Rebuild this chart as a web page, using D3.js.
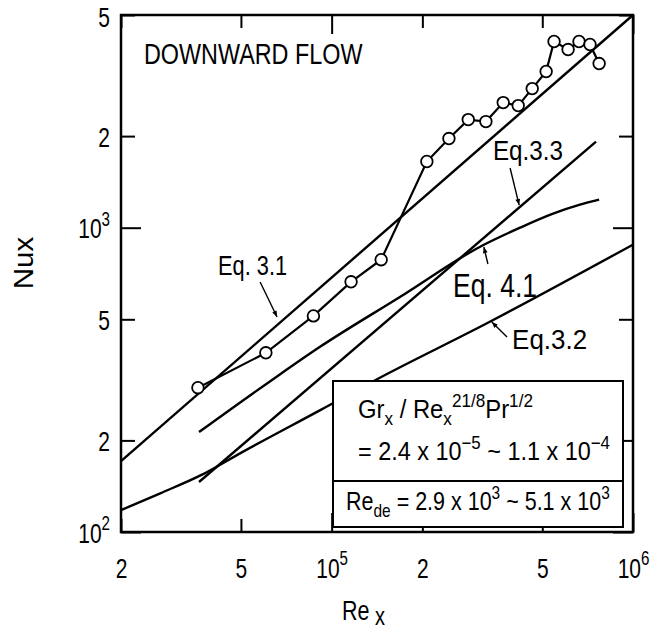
<!DOCTYPE html>
<html>
<head>
<meta charset="utf-8">
<script src="https://cdn.jsdelivr.net/npm/d3@7"></script>
<style>
  body { margin: 0; background: #fff; }
  svg { display: block; font-family: "Liberation Sans", Arial, sans-serif; }
</style>
</head>
<body>
<svg id="chart"></svg>
<script>
// tick values and their labels ([base, superscript])
const reTicks = [2e4, 5e4, 1e5, 2e5, 5e5, 1e6];
const reTickLabels = [['2', ''], ['5', ''], ['10', '5'], ['2', ''], ['5', ''], ['10', '6']];
const nuTicks = [1e2, 2e2, 5e2, 1e3, 2e3, 5e3];
const nuTickLabels = [['10', '2'], ['2', ''], ['5', ''], ['10', '3'], ['2', ''], ['5', '']];

// measured points (circles)
const expRe = [3.6e4, 6.05e4, 8.7e4, 1.16e5, 1.46e5, 2.07e5, 2.45e5, 2.84e5, 3.25e5,
  3.71e5, 4.16e5, 4.63e5, 5.15e5, 5.47e5, 6.09e5, 6.62e5, 7.2e5, 7.72e5];
const expNu = [298, 388, 513, 664, 785, 1650, 1963, 2266, 2232,
  2577, 2519, 2865, 3261, 4091, 3850, 4091, 4000, 3463];

// correlations
const eq31Re = [2e4, 1e6];
const eq31Nu = [171, 5000];
const eq32Re = [2e4, 2.7e4, 3.7e4, 5e4, 9.2e4, 1.4e5, 3.3e5, 1e6];
const eq32Nu = [118, 134, 154, 182, 252, 316, 487, 880];
const eq33Re = [3.63e4, 7.54e5];
const eq33Nu = [146, 1918];
const eq41Re = [3.63e4, 6.34e4, 9.15e4, 1.69e5, 3.11e5, 4.22e5, 5.43e5, 6.67e5, 7.72e5];
const eq41Nu = [213, 316, 406, 593, 866, 1000, 1112, 1190, 1236];

// curve labels: text, anchor (Re, Nu), width px, font size, arrow from/to (Re, Nu)
const eqLabels = [
  { text: 'Eq. 3.1', re: 4.2e4, nu: 699, w: 69, size: 27, from: [5.79e4, 663], to: [6.59e4, 509] },
  { text: 'Eq.3.3', re: 3.43e5, nu: 1669, w: 70, size: 27, from: [3.91e5, 1571], to: [4.19e5, 1187] },
  { text: 'Eq. 4.1', re: 2.53e5, nu: 592, w: 84, size: 34, from: [3.30e5, 760], to: [3.20e5, 864] },
  { text: 'Eq.3.2', re: 3.97e5, nu: 399, w: 75, size: 27, from: [3.82e5, 437], to: [3.40e5, 490] }
];

const svg = d3.select('#chart').attr('width', 655).attr('height', 633);
svg.append('rect').attr('width', 655).attr('height', 633).attr('fill', '#fff');

const margin = { top: 15, right: 22, bottom: 101, left: 121 };
const width = 655 - margin.left - margin.right;
const height = 633 - margin.top - margin.bottom;

const x = d3.scaleLog().domain([2e4, 1e6]).range([0, width]);
const y = d3.scaleLog().domain([1e2, 5e3]).range([height, 0]);

const g = svg.append('g').attr('transform', `translate(${margin.left},${margin.top})`);

const isMajor = d => Math.abs(Math.log10(d) - Math.round(Math.log10(d))) < 1e-6;
const findIdx = (arr, d) => arr.findIndex(t => Math.abs(t - d) / d < 1e-9);

// squeeze a text horizontally so it spans `target` px, keeping x0 fixed
function fitWidth(sel, x0, target) {
  const w = sel.node().getBBox().width;
  const k = target / w;
  sel.attr('transform', `translate(${x0 * (1 - k)},0) scale(${k},1)`);
}

function rich(textSel, parts, size, subShift) {
  let shift = 0;
  parts.forEach(([t, kind]) => {
    const target = kind === 'sup' ? -0.45 * size : kind === 'sub' ? (subShift || 0.3 * size) : 0;
    const dy = target - shift;
    textSel.append('tspan')
      .attr('dy', dy !== 0 ? dy : null)
      .attr('font-size', kind ? 0.72 * size : size)
      .text(t);
    shift = target;
  });
}

// axes, ticks pointing inward
const tickFont = 28;
const xBottom = g.append('g').attr('transform', `translate(0,${height})`)
  .call(d3.axisBottom(x).tickValues(reTicks).tickSize(-13).tickFormat(() => ''));
const xTop = g.append('g')
  .call(d3.axisTop(x).tickValues(reTicks).tickSize(-13).tickFormat(() => ''));
const yLeft = g.append('g')
  .call(d3.axisLeft(y).tickValues(nuTicks).tickSize(-13).tickFormat(() => ''));
const yRight = g.append('g').attr('transform', `translate(${width},0)`)
  .call(d3.axisRight(y).tickValues(nuTicks).tickSize(-13).tickFormat(() => ''));

[xBottom, xTop, yLeft, yRight].forEach(a => {
  a.select('.domain').remove();
  a.selectAll('.tick line').attr('stroke', '#000').attr('stroke-width', 2);
});
xBottom.selectAll('.tick line').attr('y2', d => isMajor(d) ? -19 : -13);
xTop.selectAll('.tick line').attr('y2', d => isMajor(d) ? 19 : 13);
yLeft.selectAll('.tick line').attr('x2', d => isMajor(d) ? 20 : 14);
yRight.selectAll('.tick line').attr('x2', d => isMajor(d) ? -20 : -14);

const kTick = 0.75;
xBottom.selectAll('.tick text')
  .attr('y', 46).attr('dy', 0)
  .attr('font-size', tickFont).attr('fill', '#000')
  .attr('font-family', '"Liberation Sans", Arial, sans-serif')
  .each(function (d) {
    const lab = reTickLabels[findIdx(reTicks, d)];
    const t = d3.select(this);
    rich(t, lab[1] ? [[lab[0]], [lab[1], 'sup']] : [[lab[0]]], tickFont);
    t.attr('transform', `scale(${kTick},1)`);
  });

yLeft.selectAll('.tick text')
  .attr('x', -11).attr('dy', d => d === 5e3 ? 11 : 10)
  .attr('font-size', tickFont).attr('fill', '#000')
  .attr('font-family', '"Liberation Sans", Arial, sans-serif')
  .each(function (d) {
    const lab = nuTickLabels[findIdx(nuTicks, d)];
    const t = d3.select(this);
    rich(t, lab[1] ? [[lab[0]], [lab[1], 'sup']] : [[lab[0]]], tickFont);
    t.attr('transform', `translate(${-11 * (1 - kTick)},0) scale(${kTick},1)`);
  });

// frame
g.append('rect')
  .attr('width', width).attr('height', height)
  .attr('fill', 'none').attr('stroke', '#000').attr('stroke-width', 2.5);

// curves
const pts = (re, nu) => re.map((r, i) => [r, nu[i]]);
const straight = d3.line().x(d => x(d[0])).y(d => y(d[1]));
const smooth = d3.line().x(d => x(d[0])).y(d => y(d[1])).curve(d3.curveMonotoneX);

const curves = [
  { d: pts(eq31Re, eq31Nu), gen: straight },
  { d: pts(eq33Re, eq33Nu), gen: straight },
  { d: pts(eq41Re, eq41Nu), gen: smooth },
  { d: pts(eq32Re, eq32Nu), gen: smooth }
];
g.selectAll('.eq-line')
  .data(curves)
  .enter()
  .append('path')
  .attr('class', 'eq-line')
  .attr('d', c => c.gen(c.d))
  .attr('fill', 'none')
  .attr('stroke', '#000')
  .attr('stroke-width', 2.4);

// experiment
const expPts = pts(expRe, expNu);
g.append('path')
  .attr('d', straight(expPts))
  .attr('fill', 'none')
  .attr('stroke', '#000')
  .attr('stroke-width', 2.2);
g.selectAll('.exp-point')
  .data(expPts)
  .enter()
  .append('circle')
  .attr('class', 'exp-point')
  .attr('cx', d => x(d[0]))
  .attr('cy', d => y(d[1]))
  .attr('r', 5.8)
  .attr('fill', '#fff')
  .attr('stroke', '#000')
  .attr('stroke-width', 1.8);

// arrows and labels
svg.append('defs').append('marker')
  .attr('id', 'arrow')
  .attr('viewBox', '0 0 10 10')
  .attr('refX', 10).attr('refY', 5)
  .attr('markerUnits', 'userSpaceOnUse')
  .attr('markerWidth', 9).attr('markerHeight', 6)
  .attr('orient', 'auto')
  .append('path')
  .attr('d', 'M0,1 L10,5 L0,9 Z')
  .attr('fill', '#000');

g.selectAll('.eq-arrow')
  .data(eqLabels)
  .enter()
  .append('line')
  .attr('class', 'eq-arrow')
  .attr('x1', d => x(d.from[0])).attr('y1', d => y(d.from[1]))
  .attr('x2', d => x(d.to[0])).attr('y2', d => y(d.to[1]))
  .attr('stroke', '#000')
  .attr('stroke-width', 1.4)
  .attr('marker-end', 'url(#arrow)');

eqLabels.forEach(l => {
  const t = g.append('text')
    .attr('x', x(l.re)).attr('y', y(l.nu))
    .attr('font-size', l.size)
    .text(l.text);
  fitWidth(t, x(l.re), l.w);
});

// title inside plot
const title = g.append('text')
  .attr('x', 23).attr('y', 49)
  .attr('font-size', 29)
  .text('DOWNWARD FLOW');
fitWidth(title, 23, 219);

// condition box
const box = g.append('g');
box.append('rect')
  .attr('x', 212).attr('y', 366)
  .attr('width', 290).attr('height', 146)
  .attr('fill', '#fff').attr('stroke', '#000').attr('stroke-width', 2);
box.append('line')
  .attr('x1', 212).attr('x2', 502)
  .attr('y1', 466).attr('y2', 466)
  .attr('stroke', '#000').attr('stroke-width', 2);

const boxFont = 25;
const l1 = box.append('text').attr('x', 237).attr('y', 403).attr('font-size', boxFont);
rich(l1, [['Gr'], ['x', 'sub'], [' / Re'], ['x', 'sub'], ['21/8', 'sup'], ['Pr'], ['1/2', 'sup']], boxFont);
fitWidth(l1, 237, 175);

const l2 = box.append('text').attr('x', 237).attr('y', 445).attr('font-size', boxFont);
rich(l2, [['= 2.4 x 10'], ['\u22125', 'sup'], [' ~ 1.1 x 10'], ['\u22124', 'sup']], boxFont);
fitWidth(l2, 237, 252);

const l3 = box.append('text').attr('x', 225).attr('y', 495).attr('font-size', boxFont);
rich(l3, [['Re'], ['de', 'sub'], [' = 2.9 x 10'], ['3', 'sup'], [' ~ 5.1 x 10'], ['3', 'sup']], boxFont);
fitWidth(l3, 225, 264);

// axis titles
const xt = svg.append('text')
  .attr('x', 342).attr('y', 620)
  .attr('font-size', 28);
rich(xt, [['Re'], [' x', 'sub']], 28, 5);
xt.selectAll('tspan').filter((d, i) => i === 1).attr('font-size', 26);
fitWidth(xt, 342, 43);

const yt = svg.append('g').attr('transform', 'translate(33,263) rotate(-90)');
const ytt = yt.append('text')
  .attr('x', 0).attr('y', 0)
  .attr('text-anchor', 'middle')
  .attr('font-size', 27)
  .text('Nux');
fitWidth(ytt, 0, 53);
</script>
</body>
</html>
